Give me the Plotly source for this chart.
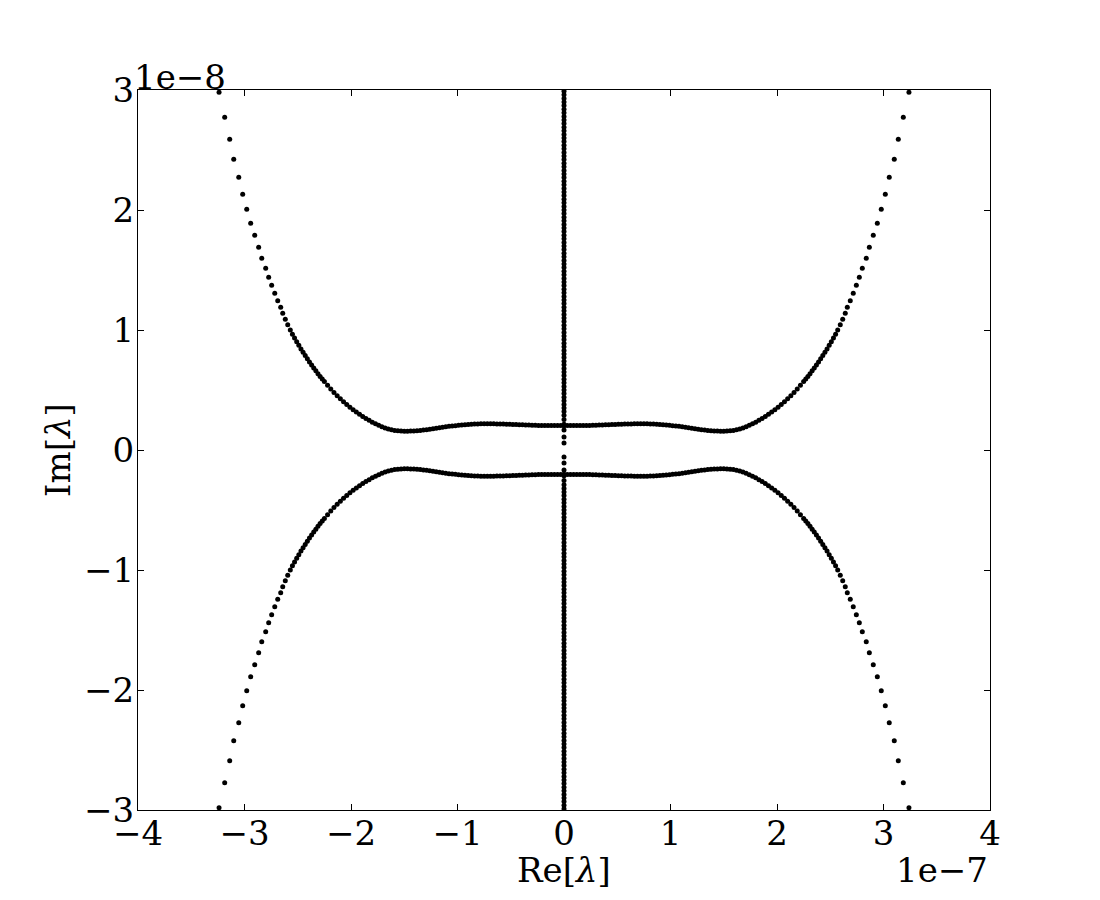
import plotly.graph_objects as go

# Values are in display units: x in units of 1e-7, y in units of 1e-8
# Upper-right branch of the eigenvalue curve (others are its mirror images)
branch_re = [
    0.00, 0.03, 0.06, 0.09, 0.12, 0.15, 0.18, 0.21, 0.24, 0.27,
    0.30, 0.33, 0.36, 0.39, 0.42, 0.45, 0.48, 0.51, 0.54, 0.57,
    0.60, 0.63, 0.66, 0.69, 0.72, 0.75, 0.78, 0.81, 0.84, 0.87,
    0.90, 0.93, 0.96, 0.99, 1.02, 1.05, 1.08, 1.11, 1.14, 1.17,
    1.20, 1.23, 1.26, 1.29, 1.32, 1.35, 1.38, 1.41, 1.44, 1.47,
    1.50, 1.53, 1.56, 1.59, 1.62, 1.65, 1.68, 1.71, 1.74, 1.77,
    1.80, 1.83, 1.86, 1.89, 1.92, 1.95, 1.98, 2.01, 2.04, 2.07,
    2.10, 2.13, 2.16, 2.19, 2.22, 2.25, 2.27, 2.29, 2.31, 2.33,
    2.35, 2.37, 2.39, 2.41, 2.43, 2.45, 2.47, 2.49, 2.51, 2.53,
    2.55, 2.570, 2.594, 2.617, 2.641, 2.660, 2.688, 2.716, 2.745, 2.773,
    2.801, 2.838, 2.867, 2.904, 2.942, 2.979, 3.017, 3.054, 3.101, 3.139,
    3.186, 3.239,
]
branch_im = [
    0.204, 0.204, 0.204, 0.204, 0.204, 0.204, 0.204, 0.205, 0.205, 0.206,
    0.207, 0.208, 0.209, 0.210, 0.211, 0.212, 0.213, 0.214, 0.215, 0.216,
    0.217, 0.217, 0.218, 0.218, 0.218, 0.218, 0.218, 0.217, 0.216, 0.215,
    0.213, 0.211, 0.209, 0.206, 0.203, 0.200, 0.197, 0.193, 0.189, 0.185,
    0.181, 0.177, 0.173, 0.169, 0.166, 0.163, 0.161, 0.159, 0.158, 0.157,
    0.157, 0.158, 0.160, 0.163, 0.168, 0.174, 0.183, 0.194, 0.206, 0.219,
    0.232, 0.247, 0.263, 0.279, 0.297, 0.316, 0.336, 0.357, 0.379, 0.402,
    0.428, 0.453, 0.480, 0.509, 0.540, 0.570, 0.591, 0.613, 0.636, 0.660,
    0.684, 0.709, 0.734, 0.760, 0.787, 0.814, 0.842, 0.872, 0.902, 0.933,
    0.965, 1.000, 1.044, 1.089, 1.139, 1.189, 1.244, 1.306, 1.373, 1.439,
    1.514, 1.598, 1.689, 1.789, 1.889, 2.006, 2.131, 2.273, 2.423, 2.589,
    2.773, 2.981,
]

# Eigenvalues lying on the imaginary axis (positive half; mirrored below)
axis_im = [
    0.058, 0.108, 0.167, 0.215, 0.255, 0.29,
    0.32, 0.35, 0.38, 0.41, 0.44, 0.47, 0.50, 0.53, 0.56, 0.59,
    0.62, 0.65, 0.68, 0.71, 0.74, 0.77, 0.80, 0.83, 0.86, 0.89,
    0.92, 0.95, 0.98, 1.01, 1.04, 1.07, 1.10, 1.13, 1.16, 1.19,
    1.22, 1.25, 1.28, 1.31, 1.34, 1.37, 1.40, 1.43, 1.46, 1.49,
    1.52, 1.55, 1.58, 1.61, 1.64, 1.67, 1.70, 1.73, 1.76, 1.79,
    1.82, 1.85, 1.88, 1.91, 1.94, 1.97, 2.00, 2.03, 2.06, 2.09,
    2.12, 2.15, 2.18, 2.21, 2.24, 2.27, 2.30, 2.33, 2.36, 2.39,
    2.42, 2.45, 2.48, 2.51, 2.54, 2.57, 2.60, 2.63, 2.66, 2.69,
    2.72, 2.75, 2.78, 2.81, 2.84, 2.87, 2.90, 2.93, 2.96, 2.99,
]

x_ticks = [-4, -3, -2, -1, 0, 1, 2, 3, 4]
x_tick_text = ["\u22124", "\u22123", "\u22122", "\u22121", "0", "1", "2", "3", "4"]
y_ticks = [-3, -2, -1, 0, 1, 2, 3]
y_tick_text = ["\u22123", "\u22122", "\u22121", "0", "1", "2", "3"]

# Assemble all eigenvalues by the symmetry of the spectrum
xs, ys = [], []
for sx in (1, -1):
    for sy in (1, -1):
        xs += [sx * v for v in branch_re]
        ys += [sy * v for v in branch_im]
for sy in (1, -1):
    xs += [0.0 for _ in axis_im]
    ys += [sy * v for v in axis_im]

FONT = "DejaVu Serif"
FS = 34

fig = go.Figure()
fig.add_trace(go.Scatter(
    x=xs, y=ys, mode="markers",
    marker=dict(color="black", size=5, line=dict(width=0)),
    showlegend=False, hoverinfo="skip",
))

axis_common = dict(
    showgrid=False, zeroline=False, showline=True, linecolor="black",
    linewidth=1, mirror="ticks", ticks="inside", ticklen=6, tickwidth=1,
    tickcolor="black", tickfont=dict(family=FONT, size=FS, color="black"),
)
fig.update_xaxes(range=[-4, 4], tickvals=x_ticks, ticktext=x_tick_text,
                 ticklabelstandoff=-7, **axis_common)
fig.update_yaxes(range=[-3, 3], tickvals=y_ticks, ticktext=y_tick_text,
                 ticklabelstandoff=-4, **axis_common)

fig.update_layout(
    width=1092, height=892,
    margin=dict(l=130, r=110, t=82, b=90),
    paper_bgcolor="white", plot_bgcolor="white",
    font=dict(family=FONT, size=FS, color="black"),
    annotations=[
        dict(text="Re[<i>\u03bb</i>]", xref="paper", yref="paper", x=0.5, y=-0.084,
             xanchor="center", yanchor="middle", showarrow=False,
             font=dict(family=FONT, size=FS)),
        dict(text="Im[<i>\u03bb</i>]", xref="paper", yref="paper", x=-0.094, y=0.5,
             xanchor="center", yanchor="middle", textangle=-90, showarrow=False,
             font=dict(family=FONT, size=FS)),
        dict(text="1e\u22127", xref="paper", yref="paper", x=1.0, y=-0.084,
             xanchor="right", yanchor="middle", showarrow=False,
             font=dict(family=FONT, size=FS)),
        dict(text="1e\u22128", xref="paper", yref="paper", x=0.0, y=1.018,
             xanchor="left", yanchor="middle", showarrow=False, xshift=-6,
             font=dict(family=FONT, size=FS)),
    ],
)

fig.write_html("out.html")
